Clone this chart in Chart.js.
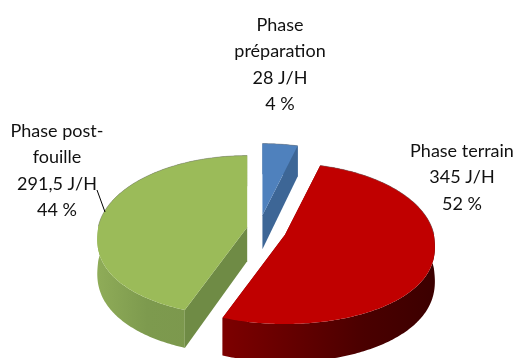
<!DOCTYPE html>
<html lang="fr">
<head>
<meta charset="utf-8">
<title>Répartition des jours/homme par phase</title>
<style>
    html, body { margin: 0; padding: 0; background: #fff; overflow: hidden; }
    canvas { display: block; }
</style>
<script src="https://cdn.jsdelivr.net/npm/chart.js@4/dist/chart.umd.js"></script>
</head>
<body>
<canvas id="phases" width="515" height="358"></canvas>
<script>
    const phases = ['Phase préparation', 'Phase terrain', 'Phase post-fouille'];
    const joursHomme = [28, 345, 291.5];
    const joursLabels = ['28 J/H', '345 J/H', '291,5 J/H'];
    const pourcentLabels = ['4 %', '52 %', '44 %'];
    const nomLignes = [['Phase', 'préparation'], ['Phase terrain'], ['Phase post-', 'fouille']];

    const topColors = ['#4f81bd', '#c00000', '#9bbb59'];
    const faceColors = ['#3d6696', '#7a0000', '#6f8b45'];
    // couleurs de la paroi extérieure, de gauche à droite
    const wallColors = [
        ['#3d6696', '#3d6696'],
        ['#7d0000', '#640000', '#4a0000', '#3c0000'],
        ['#8fac58', '#7d9a4e', '#7c984d', '#6f8b45']
    ];

    // position du texte : centre x, y de la première ligne
    const labelPos = [[280, 25], [462, 151], [57, 131]];
    const lineHeight = 26.5;

    // réglages de la perspective
    const tilt = 0.533;
    const persp = 0.11;
    const frontBulge = 0.85;
    const depth = 34;
    const explodeX = 18;
    const explodeY = 15;
    const leanX = -6;

    function project(cx, cy, r, angle, drop) {
        const c = Math.cos(angle);
        const u = r * Math.sin(angle);
        // le demi-cercle avant est un peu plus plein
        const v = c < 0 ? r * Math.pow(-c, frontBulge) : -r * c;
        const w = 1 + persp * c;
        return [cx + u / w, cy + (v * tilt + drop) / w];
    }

    function arcPoints(cx, cy, r, start, end, drop) {
        const pts = [];
        const steps = Math.ceil((end - start) / 0.015);
        for (let i = 0; i <= steps; i++) {
            pts.push(project(cx, cy, r, start + (end - start) * i / steps, drop));
        }
        return pts;
    }

    function fillPoly(ctx, pts, fill) {
        ctx.beginPath();
        pts.forEach((p, i) => i ? ctx.lineTo(p[0], p[1]) : ctx.moveTo(p[0], p[1]));
        ctx.closePath();
        ctx.fillStyle = fill;
        ctx.fill();
    }

    // dessine chaque part en 3D à partir des angles calculés par Chart.js
    const pie3d = {
        id: 'pie3d',
        beforeDatasetsDraw(chart) {
            const ctx = chart.ctx;
            const arcs = chart.getDatasetMeta(0).data;

            arcs.forEach((arc, i) => {
                const start = arc.startAngle + Math.PI / 2;
                const end = arc.endAngle + Math.PI / 2;
                const mid = (start + end) / 2;
                const cx = arc.x + explodeX * Math.sin(mid) + leanX * Math.cos(mid);
                const cy = arc.y - explodeY * Math.cos(mid);
                const r = arc.outerRadius;

                const top = arcPoints(cx, cy, r, start, end, 0);
                const bottom = arcPoints(cx, cy, r, start, end, depth);
                const hub = [cx, cy];
                const hubLow = [cx, cy + depth];

                // faces planes
                fillPoly(ctx, [hub, top[0], bottom[0], hubLow], faceColors[i]);
                fillPoly(ctx, [hub, top[top.length - 1], bottom[bottom.length - 1], hubLow], faceColors[i]);

                // paroi extérieure
                const xs = top.map(p => p[0]);
                const grad = ctx.createLinearGradient(Math.min(...xs), 0, Math.max(...xs), 0);
                wallColors[i].forEach((c, k) => grad.addColorStop(k / (wallColors[i].length - 1), c));
                fillPoly(ctx, top.concat(bottom.slice().reverse()), grad);

                // dessus
                fillPoly(ctx, [hub].concat(top), topColors[i]);

                // liseré gris sur le bord arrière
                ctx.beginPath();
                top.forEach((p, k) => {
                    if (p[1] < cy) ctx.lineTo(p[0], p[1]);
                });
                ctx.strokeStyle = 'rgba(120,120,120,0.45)';
                ctx.lineWidth = 1;
                ctx.stroke();
            });
            return false;
        },
        afterDraw(chart) {
            const ctx = chart.ctx;
            ctx.save();

            // trait de repère vers la part post-fouille
            ctx.beginPath();
            ctx.moveTo(97, 190);
            ctx.lineTo(105, 212);
            ctx.strokeStyle = '#000';
            ctx.lineWidth = 1;
            ctx.stroke();

            ctx.fillStyle = '#111';
            ctx.font = '18px Lato';
            ctx.textAlign = 'center';
            ctx.textBaseline = 'middle';
            phases.forEach((p, i) => {
                const lignes = nomLignes[i].concat(joursLabels[i], pourcentLabels[i]);
                lignes.forEach((txt, k) => {
                    ctx.fillText(txt, labelPos[i][0], labelPos[i][1] + k * lineHeight);
                });
            });
            ctx.restore();
        }
    };

    new Chart(document.getElementById('phases').getContext('2d'), {
        type: 'pie',
        data: {
            labels: phases,
            datasets: [{
                data: joursHomme,
                backgroundColor: topColors,
                borderWidth: 0
            }]
        },
        options: {
            responsive: false,
            animation: false,
            radius: 149,
            layout: { padding: { left: 17, top: 102 } },
            plugins: {
                legend: { display: false },
                tooltip: { enabled: false }
            }
        },
        plugins: [pie3d]
    });
</script>
</body>
</html>
